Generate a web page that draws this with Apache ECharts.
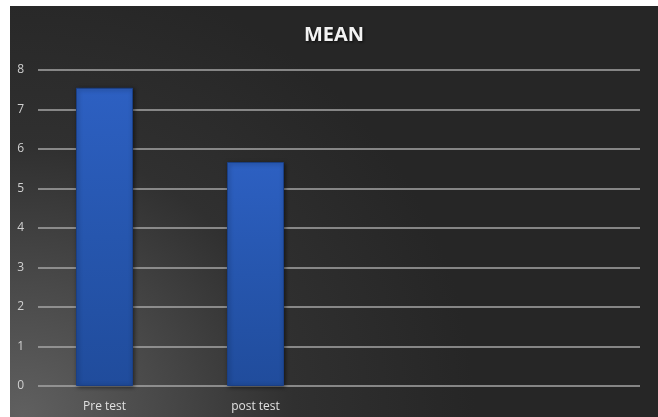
<!DOCTYPE html>
<html><head><meta charset="utf-8">
<script src="https://cdn.jsdelivr.net/npm/echarts@6/dist/echarts.min.js"></script>
<style>html,body{margin:0;padding:0;background:#fff;}#c{position:absolute;left:10px;top:6px;width:648px;height:411px;}</style>
</head><body><div id="c"></div>
<script>
var categories = ["Pre test", "post test", "", ""];
var meanValues = [7.55, 5.67, null, null];
var yTicks = [0, 1, 2, 3, 4, 5, 6, 7, 8];

var chart = echarts.init(document.getElementById('c'));
var gTop = 64, gBottom = 411 - 380;
var barColor = {type:'linear',x:0,y:0,x2:0,y2:1,colorStops:[
  {offset:0,color:'#2d60c2'},{offset:0.5,color:'#2656ae'},{offset:1,color:'#204c9c'}]};
chart.setOption({
  animation:false,
  backgroundColor:{type:'radial',x:0.02,y:1.0,r:1.1,colorStops:[
    {offset:0,color:'#606060'},{offset:0.3,color:'#494949'},{offset:0.6,color:'#303030'},{offset:1,color:'#262626'}]},
  title:{text:'MEAN',left:'center',top:14,textStyle:{color:'#f2f2f2',fontSize:20,fontWeight:'bold',fontFamily:'Open Sans',
    textShadowColor:'rgba(0,0,0,0.8)',textShadowBlur:3,textShadowOffsetX:1,textShadowOffsetY:1}},
  grid:[
    {left:28,right:18,top:gTop,bottom:gBottom},
    {left:19,right:25,top:gTop,bottom:gBottom}
  ],
  xAxis:[
    {type:'category',gridIndex:0,data:categories,show:false},
    {type:'category',gridIndex:1,data:categories,
     axisLine:{show:false},axisTick:{show:false},
     axisLabel:{color:'#e0e0e0',fontSize:12,fontFamily:'Open Sans',margin:15}}
  ],
  yAxis:[
    {type:'value',gridIndex:0,min:yTicks[0],max:yTicks[yTicks.length-1],interval:1,
     axisLine:{show:false},axisTick:{show:false},
     axisLabel:{color:'#d0d0d0',fontSize:12,fontFamily:'Open Sans',margin:14},
     splitLine:{lineStyle:{color:'#a6a6a6',width:1.5}}},
    {type:'value',gridIndex:1,min:0,max:8,interval:1,show:false,splitLine:{show:false}}
  ],
  series:[
    {type:'bar',xAxisIndex:1,yAxisIndex:1,data:meanValues,barWidth:57,
     itemStyle:{color:barColor,borderColor:'#1a3f85',borderWidth:1,
       shadowColor:'rgba(0,0,0,0.5)',shadowBlur:4,shadowOffsetX:1,shadowOffsetY:1}}
  ]
});
</script></body></html>
